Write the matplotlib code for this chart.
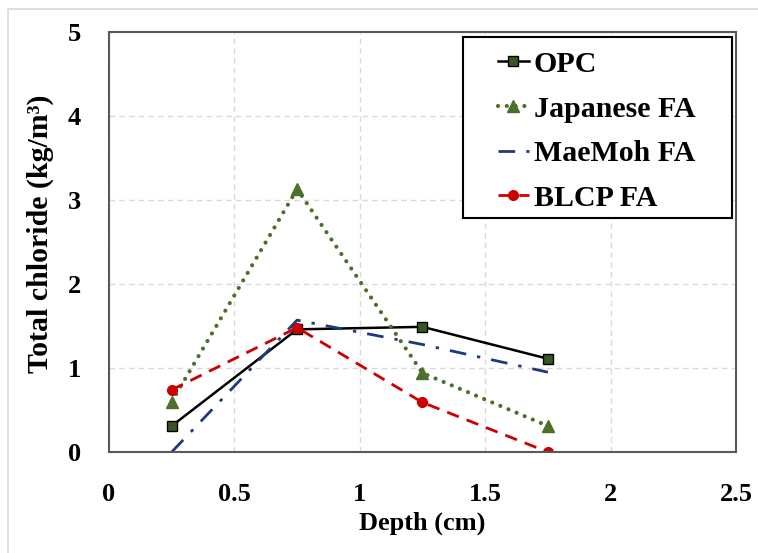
import matplotlib.pyplot as plt
from matplotlib.patches import Rectangle

# 数据
depth = [0.25, 0.75, 1.25, 1.75]
opc = [0.31, 1.46, 1.49, 1.11]
japanese_fa = [0.60, 3.13, 0.94, 0.31]
maemoh_fa = [0.0, 1.57, 1.28, 0.95]
blcp_fa = [0.74, 1.48, 0.59, 0.0]

xticks = [0, 0.5, 1, 1.5, 2, 2.5]
xticklabels = ['0', '0.5', '1', '1.5', '2', '2.5']
yticks = [0, 1, 2, 3, 4, 5]

plt.rcParams['font.family'] = ['Liberation Serif', 'DejaVu Serif']
plt.rcParams['font.weight'] = 'bold'

fig = plt.figure(figsize=(7.58, 5.53), dpi=100)
ax = fig.add_axes([109 / 758, 1 - 452 / 553, 627 / 758, 420 / 553])

# 外框
fig.patches.append(Rectangle((8 / 758, -0.1), 1.1, 1 - 9 / 553 + 0.1, transform=fig.transFigure,
                             fill=False, edgecolor='#d9d9d9', linewidth=1.2))

ax.plot(depth, opc, '-', color='black', lw=1.8, marker='s', ms=7,
        mfc='#375623', mec='black', mew=1, label='OPC')
ax.plot(depth, japanese_fa, color='#4a7029', lw=3, dashes=(0.01, 2.1),
        dash_capstyle='round', marker='^', ms=8.5,
        mfc='#4a7029', mec='#4a7029', label='Japanese FA')
ax.plot(depth, maemoh_fa, color='#1f3a7a', lw=2, dashes=(6, 4, 1.2, 4),
        label='MaeMoh FA')
ax.plot(depth, blcp_fa, color='#cc0000', lw=2, dashes=(4.5, 3), marker='o', ms=7,
        mfc='#cc0000', mec='#cc0000', label='BLCP FA')

ax.set_xlim(0, 2.5)
ax.set_ylim(0, 5)
ax.set_xticks(xticks)
ax.set_xticklabels(xticklabels)
ax.set_yticks(yticks)
ax.tick_params(axis='x', length=0, labelsize=19, pad=22)
ax.tick_params(axis='y', length=0, labelsize=19, pad=20)
ax.grid(True, ls=(0, (4, 3)), color='#d9d9d9', lw=1)
ax.set_axisbelow(True)
for s in ax.spines.values():
    s.set_color('#595959')
    s.set_linewidth(1.5)

ax.set_xlabel('Depth (cm)', fontsize=19, fontweight='bold', labelpad=4)
ax.set_ylabel('Total chloride (kg/m³)', fontsize=21.5, fontweight='bold')
ax.yaxis.set_label_coords(-0.088, 0.52)

# 图例框
ax.add_patch(Rectangle((0.5646, 0.557), 0.429, 0.431, transform=ax.transAxes,
                       facecolor='white', edgecolor='black', lw=1.5, zorder=4.5))
leg = ax.legend(loc='upper left', bbox_to_anchor=(0.620, 0.955), frameon=False,
                fontsize=21.5, handlelength=1.05, handletextpad=0.15,
                labelspacing=0.59, borderpad=0, borderaxespad=0)
leg.set_zorder(5)

fig.savefig('out.png', dpi=100)
